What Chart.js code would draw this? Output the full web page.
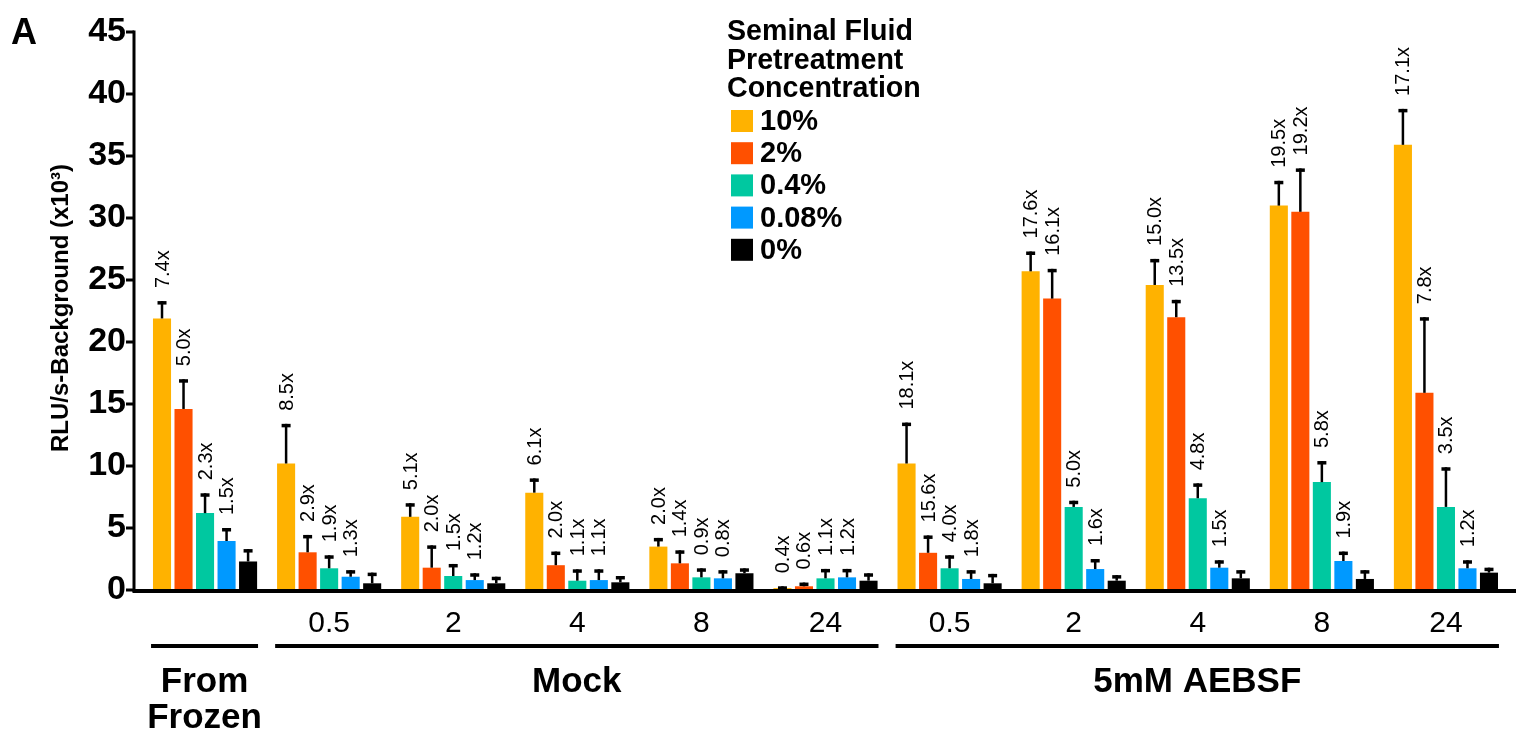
<!DOCTYPE html>
<html>
<head>
<meta charset="utf-8">
<script src="https://cdn.jsdelivr.net/npm/chart.js@4.4.0/dist/chart.umd.min.js"></script>
<style>
  html, body { margin: 0; padding: 0; background: #fff; }
  #wrap { position: relative; width: 1516px; height: 733px; }
  canvas { display: block; }
</style>
</head>
<body>
<div id="wrap"><canvas id="c" width="1516" height="733"></canvas></div>
<script>
// Time points (h) for each bar group; the first group has no time point
const categories = ['', '0.5', '2', '4', '8', '24', '0.5', '2', '4', '8', '24'];

// Treatment groups spanning category indices
const groupNames = [['From', 'Frozen'], ['Mock'], ['5mM AEBSF']];
const groupStart = [0, 1, 6];
const groupEnd = [0, 5, 10];

// Pretreatment concentrations
const seriesNames = ['10%', '2%', '0.4%', '0.08%', '0%'];
const seriesColors = ['#FFB200', '#FF5000', '#00C8A0', '#0099FF', '#000000'];

// Mean signal (RLU/s - background, x10^3)
const mean10 = [21.9, 10.2, 5.9, 7.85, 3.5, 0.15, 10.2, 25.7, 24.6, 31.0, 35.9];
const mean2 = [14.6, 3.04, 1.8, 2.0, 2.15, 0.3, 3.0, 23.5, 22.0, 30.5, 15.9];
const mean04 = [6.2, 1.75, 1.13, 0.75, 1.02, 0.94, 1.75, 6.7, 7.4, 8.7, 6.7];
const mean008 = [3.95, 1.07, 0.8, 0.8, 0.94, 1.02, 0.89, 1.69, 1.8, 2.34, 1.75];
const mean0 = [2.3, 0.54, 0.54, 0.62, 1.35, 0.75, 0.54, 0.75, 0.94, 0.89, 1.4];

// Upper error (SEM)
const err10 = [1.4, 3.2, 1.1, 1.15, 0.7, 0.15, 3.3, 1.6, 2.1, 2.0, 2.9];
const err2 = [2.4, 1.4, 1.8, 1.1, 1.05, 0.3, 1.4, 2.4, 1.4, 3.5, 6.1];
const err04 = [1.6, 1.05, 0.97, 0.92, 0.73, 0.76, 1.05, 0.5, 1.2, 1.7, 3.2];
const err008 = [1.05, 0.53, 0.55, 0.87, 0.66, 0.68, 0.71, 0.81, 0.6, 0.76, 0.65];
const err0 = [1.0, 0.86, 0.53, 0.51, 0.4, 0.6, 0.76, 0.45, 0.66, 0.71, 0.4];

// Fold increase over the 0% control
const fold10 = ['7.4x', '8.5x', '5.1x', '6.1x', '2.0x', '0.4x', '18.1x', '17.6x', '15.0x', '19.5x', '17.1x'];
const fold2 = ['5.0x', '2.9x', '2.0x', '2.0x', '1.4x', '0.6x', '15.6x', '16.1x', '13.5x', '19.2x', '7.8x'];
const fold04 = ['2.3x', '1.9x', '1.5x', '1.1x', '0.9x', '1.1x', '4.0x', '5.0x', '4.8x', '5.8x', '3.5x'];
const fold008 = ['1.5x', '1.3x', '1.2x', '1.1x', '0.8x', '1.2x', '1.8x', '1.6x', '1.5x', '1.9x', '1.2x'];

// Y axis
const yMin = 0, yMax = 45, yStep = 5;
const yTitle = 'RLU/s-Background (x10\u00B3)';
const legendTitle = ['Seminal Fluid', 'Pretreatment', 'Concentration'];
const panelLetter = 'A';

const FONT = '"Liberation Sans", Arial, Helvetica, sans-serif';

const means = [mean10, mean2, mean04, mean008, mean0];
const errs = [err10, err2, err04, err008, err0];
const folds = [fold10, fold2, fold04, fold008, null];

const datasets = seriesNames.map((name, i) => ({
  label: name,
  data: means[i],
  err: errs[i],
  fold: folds[i],
  backgroundColor: seriesColors[i],
  borderWidth: 0,
  barPercentage: 0.84,
  categoryPercentage: 0.867
}));

const decorations = {
  id: 'decorations',
  afterDatasetsDraw(chart) {
    const ctx = chart.ctx;
    const ys = chart.scales.y;
    ctx.save();
    chart.data.datasets.forEach((ds, di) => {
      const meta = chart.getDatasetMeta(di);
      meta.data.forEach((bar, i) => {
        const x = bar.x;
        const top = ys.getPixelForValue(ds.data[i] + ds.err[i]);
        ctx.strokeStyle = '#000';
        ctx.lineWidth = 2.5;
        ctx.beginPath();
        ctx.moveTo(x, bar.y);
        ctx.lineTo(x, top);
        ctx.stroke();
        ctx.lineWidth = 3.5;
        ctx.beginPath();
        ctx.moveTo(x - 4.5, top + 1.75);
        ctx.lineTo(x + 4.5, top + 1.75);
        ctx.stroke();
        if (ds.fold) {
          ctx.save();
          ctx.translate(x, top - 13);
          ctx.rotate(-Math.PI / 2);
          ctx.fillStyle = '#000';
          ctx.font = '20px ' + FONT;
          ctx.textAlign = 'left';
          ctx.textBaseline = 'middle';
          ctx.fillText(ds.fold[i], 0, 1);
          ctx.restore();
        }
      });
    });
    ctx.restore();
  },
  afterDraw(chart) {
    const ctx = chart.ctx;
    const xs = chart.scales.x, ys = chart.scales.y;
    const ca = chart.chartArea;
    const axisX = ca.left - 9;
    ctx.save();
    ctx.strokeStyle = '#000';
    ctx.fillStyle = '#000';

    // y axis line and tick marks
    ctx.lineWidth = 3;
    ctx.beginPath();
    ctx.moveTo(axisX, ys.getPixelForValue(yMax) - 1.5);
    ctx.lineTo(axisX, ca.bottom + 2);
    ctx.stroke();
    ys.ticks.forEach(t => {
      const y = ys.getPixelForValue(t.value);
      ctx.beginPath();
      ctx.moveTo(axisX - 8, y);
      ctx.lineTo(axisX, y);
      ctx.stroke();
    });

    // x axis baseline
    ctx.lineWidth = 4;
    ctx.beginPath();
    ctx.moveTo(axisX - 1.5, ca.bottom + 1);
    ctx.lineTo(chart.width, ca.bottom + 1);
    ctx.stroke();

    // group brackets and names
    ctx.lineWidth = 4;
    ctx.textAlign = 'center';
    ctx.textBaseline = 'alphabetic';
    ctx.font = 'bold 35px ' + FONT;
    groupNames.forEach((lines, g) => {
      const x0 = xs.getPixelForValue(groupStart[g]) - 54;
      const x1 = xs.getPixelForValue(groupEnd[g]) + 53;
      ctx.beginPath();
      ctx.moveTo(x0, 646);
      ctx.lineTo(x1, 646);
      ctx.stroke();
      const cx = (x0 + x1) / 2;
      lines.forEach((s, k) => ctx.fillText(s, cx, 692 + k * 36));
    });

    // y axis title
    ctx.save();
    ctx.translate(61, 308);
    ctx.rotate(-Math.PI / 2);
    ctx.font = 'bold 24px ' + FONT;
    ctx.textAlign = 'center';
    ctx.textBaseline = 'middle';
    ctx.fillText(yTitle, 0, 0);
    ctx.restore();

    // panel letter
    ctx.font = 'bold 36px ' + FONT;
    ctx.textAlign = 'left';
    ctx.fillText(panelLetter, 11, 44);

    // legend
    ctx.font = 'bold 28.6px ' + FONT;
    legendTitle.forEach((s, k) => ctx.fillText(s, 727, 40 + k * 28.5));
    ctx.font = 'bold 29px ' + FONT;
    ctx.textBaseline = 'middle';
    chart.data.datasets.forEach((ds, i) => {
      const cy = 121 + i * 32.2;
      ctx.fillStyle = ds.backgroundColor;
      ctx.fillRect(731, cy - 11, 22, 22);
      ctx.fillStyle = '#000';
      ctx.fillText(ds.label, 760, cy + 1);
    });
    ctx.restore();
  }
};

new Chart(document.getElementById('c'), {
  type: 'bar',
  data: { labels: categories, datasets },
  options: {
    responsive: false,
    animation: false,
    devicePixelRatio: 1,
    layout: { padding: { top: 32, right: 8, left: 0, bottom: 0 } },
    plugins: { legend: { display: false }, tooltip: { enabled: false } },
    scales: {
      x: {
        offset: true,
        grid: { display: false, drawTicks: false },
        border: { display: false },
        ticks: { color: '#000', font: { family: FONT, size: 30 }, padding: 16, maxRotation: 0, autoSkip: false },
        afterFit(scale) { scale.height = 143; scale.paddingLeft = 0; scale.paddingRight = 0; }
      },
      y: {
        min: yMin, max: yMax,
        grid: { display: false, drawTicks: false },
        border: { display: false },
        ticks: { stepSize: yStep, color: '#000', font: { family: FONT, size: 34, weight: 'bold' }, padding: 17 },
        afterFit(scale) { scale.width = 143; scale.paddingTop = 0; scale.paddingBottom = 0; }
      }
    }
  },
  plugins: [decorations]
});
</script>
</body>
</html>
